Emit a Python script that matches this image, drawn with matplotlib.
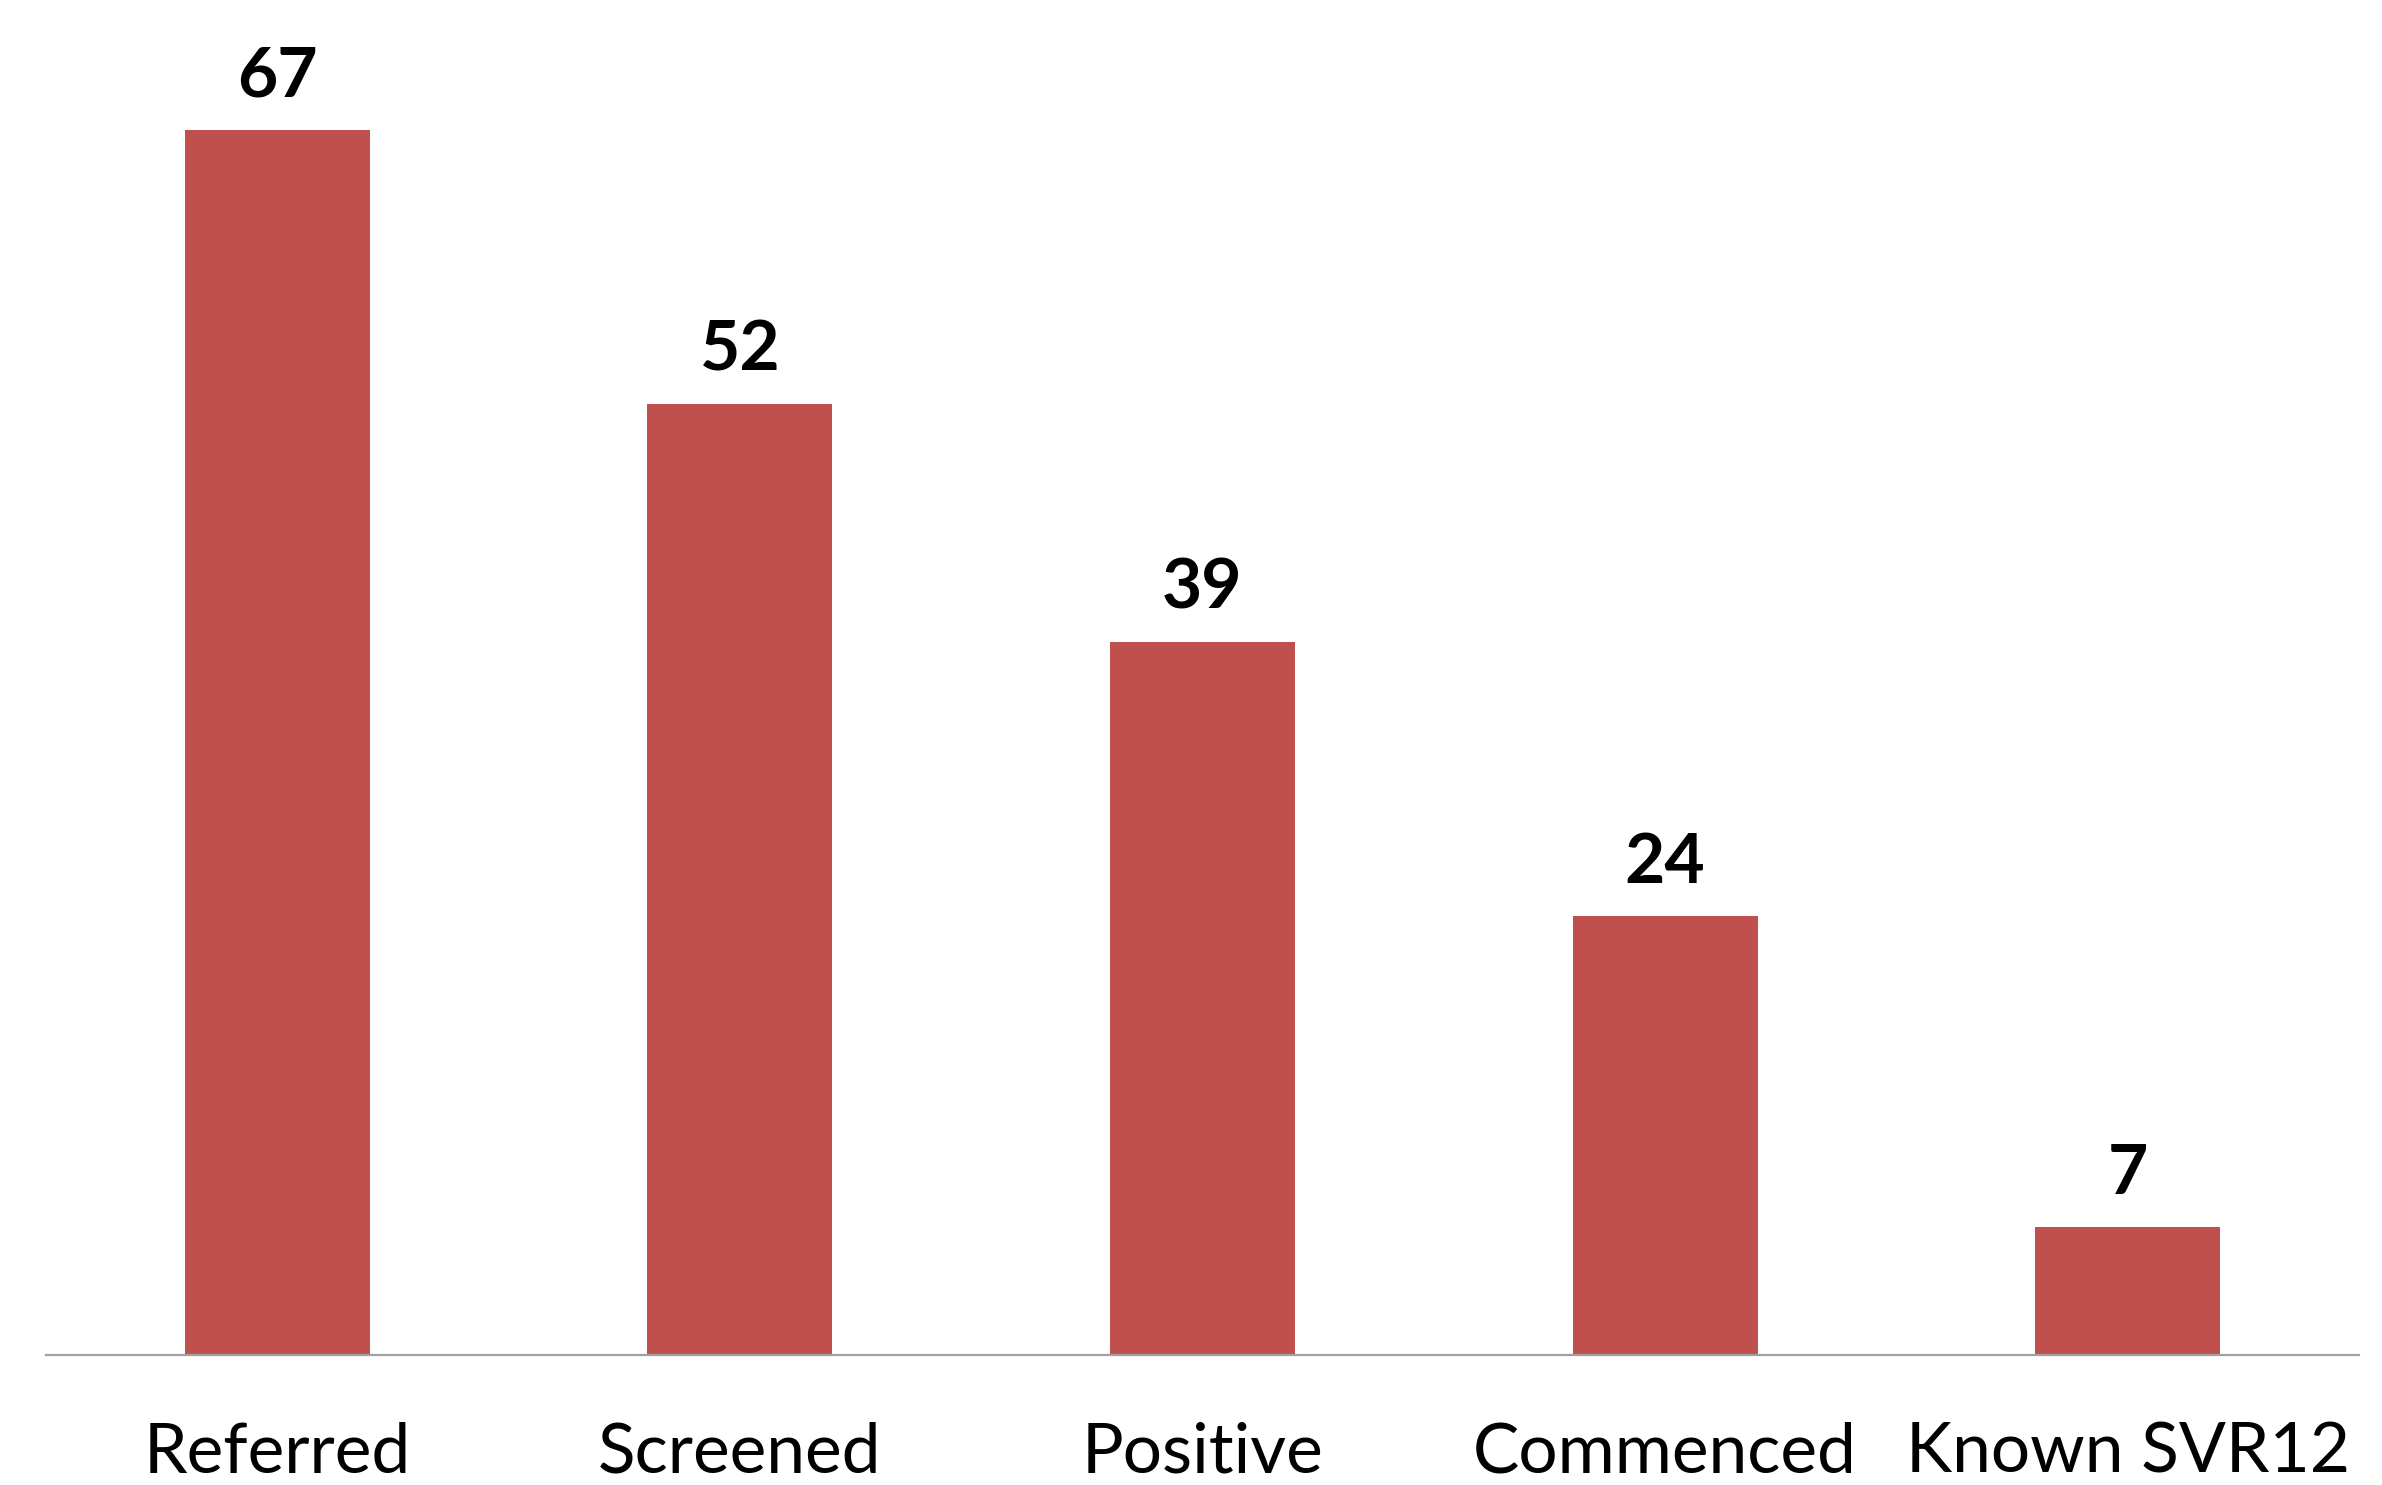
import matplotlib
matplotlib.use("Agg")
import matplotlib.pyplot as plt

categories = ["Referred", "Screened", "Positive", "Commenced", "Known SVR12"]
values = [67, 52, 39, 24, 7]

plt.rcParams['font.family'] = ['Lato', 'DejaVu Sans']

fig = plt.figure(figsize=(23.82, 14.85), dpi=100)
ax = fig.add_axes([46 / 2382, 130 / 1485, (2359 - 46) / 2382, 1 - 130 / 1485])

x = range(len(categories))
bars = ax.bar(x, values, width=0.4, color="#C0504D", zorder=2)

ax.set_xlim(-0.5, 4.5)
ax.set_ylim(0, 74.1)

# value labels above each bar
for b, v in zip(bars, values):
    ax.annotate(str(v), (b.get_x() + b.get_width() / 2, v),
                xytext=(0, 24), textcoords="offset points",
                ha="center", va="baseline", fontsize=50, fontweight="bold")

for s in ["top", "right", "left"]:
    ax.spines[s].set_visible(False)
ax.spines["bottom"].set_color("#A0A0A0")
ax.spines["bottom"].set_linewidth(1.6)
ax.set_yticks([])
ax.set_xticks(list(x))
ax.set_xticklabels(categories, fontsize=50)
ax.tick_params(axis="x", length=0, pad=48)

fig.savefig("out.png", dpi=100)
